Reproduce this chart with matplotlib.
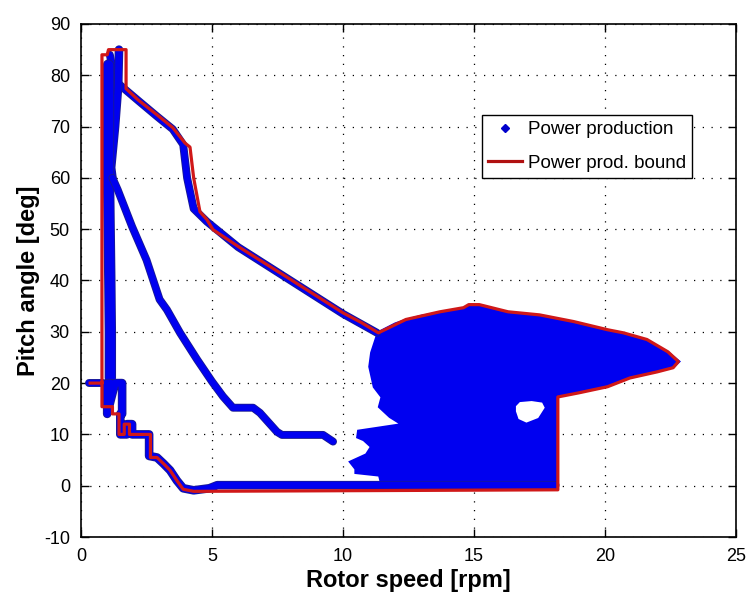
import matplotlib
matplotlib.use("Agg")
import matplotlib.pyplot as plt
from matplotlib.lines import Line2D
import matplotlib.patheffects as pe

plt.rcParams['font.family'] = ['Liberation Sans', 'DejaVu Sans']
plt.rcParams['axes.unicode_minus'] = False

# ---- data ----
# power production bound (red)
bound_x = [0.35, 0.8, 0.8, 1.0, 1.05, 1.72, 1.72, 2.18, 2.9, 3.5, 3.97, 4.16, 4.3, 4.54, 4.8,
           5.04, 6.07, 8.0, 10.0, 10.7, 11.35, 12.4, 13.7, 14.6, 14.8, 15.2, 16.3, 17.5, 18.8,
           20.1, 20.7, 21.6, 22.4, 22.8, 22.6, 22.0, 20.95, 20.1, 19.0, 18.2, 18.2,
           4.3, 3.9, 3.66, 3.4, 3.15, 2.9, 2.65, 2.65, 1.85, 1.85, 1.65, 1.65, 1.45, 1.45,
           1.2, 1.2, 0.8, 0.8]
bound_y = [20, 20, 84, 84, 85, 85, 77.4, 75.2, 72.3, 69.8, 66.8, 66.0, 60, 53.4, 51.9,
           49.9, 46.4, 40.2, 33.7, 31.8, 29.8, 32.4, 33.9, 34.7, 35.3, 35.3, 33.9, 33.3, 32.0,
           30.4, 29.8, 28.5, 26.1, 24.2, 23.0, 22.2, 21.0, 19.3, 18.1, 17.3, -0.8,
           -1.1, -0.7, 1.0, 3.0, 4.3, 5.5, 5.5, 10, 10, 12, 12, 10, 10, 14,
           14, 15.4, 15.4, 20]

# power production traces (blue)
start_x = [0.3, 0.85]
start_y = [20, 20]

upper_x = [1.1, 1.3, 1.6, 2.2, 2.9, 3.5, 3.9, 4.05, 4.3, 4.8, 6.0, 8.0, 10.0, 11.3]
upper_y = [84, 79, 77.6, 75, 72, 69.5, 66.5, 60, 54, 51.5, 46.5, 40, 33.5, 29.8]

cross_x = [1.45, 1.42, 1.3, 1.15, 1.2]
cross_y = [85, 78, 70, 62, 60]

column_x = [1.05, 1.05, 1.1, 1.12, 1.12]
column_y = [82, 60, 40, 30, 21]

decay_x = [1.2, 1.4, 1.95, 2.5, 3.0, 3.28, 3.78, 4.43, 5.0, 5.42, 5.8, 6.57, 6.83, 7.48,
           7.67, 9.24, 9.62]
decay_y = [60, 57.7, 50.5, 44, 36.3, 34.3, 29.8, 24.6, 20.3, 17.4, 15.2, 15.2, 14.2, 10.5,
           9.9, 9.9, 8.6]

down_x = [1.12, 1.0, 1.0, 1.3, 1.57, 1.57, 1.5, 1.5, 1.75, 1.75,
          1.95, 1.95, 2.6, 2.6, 2.9, 3.15, 3.4, 3.66, 3.9, 4.3, 4.9, 5.2, 18.1]
down_y = [20, 20, 14, 20, 20, 14, 14, 10, 10, 12,
          12, 10, 10, 5.8, 5.5, 4.3, 3.0, 1.0, -0.5, -0.9, -0.5, 0.1, 0.1]

blob_x = [11.35, 12.0, 12.4, 13.0, 13.7, 14.6, 14.8, 15.2, 16.3, 17.5, 18.8, 20.1, 20.7,
          21.6, 22.4, 22.8, 22.6, 22.0, 20.95, 20.1, 19.0, 18.15, 18.1, 11.5, 11.4, 10.5,
          10.5, 10.3, 10.9, 11.1, 10.8, 10.57, 10.6, 12.3, 11.8, 11.4, 11.5, 11.2, 11.03,
          11.1]
blob_y = [29.8, 31.5, 32.2, 33.0, 33.6, 34.4, 35.0, 35.0, 33.6, 33.0, 31.7, 30.1, 29.5,
          28.2, 25.9, 24.2, 23.2, 22.4, 21.2, 19.5, 18.3, 17.5, 0.0, 0.0, 2.1, 2.6,
          3.3, 4.6, 6.0, 7.6, 9.0, 9.5, 10.6, 11.9, 13.5, 15.4, 17.3, 19.3, 23.2,
          25.9]

hole_x = [16.6, 16.75, 17.2, 17.6, 17.7, 17.45, 17.0, 16.7, 16.6]
hole_y = [15.5, 16.3, 16.5, 16.2, 15.2, 13.2, 12.3, 13.0, 14.5]

# ---- figure ----
fig = plt.figure(figsize=(7.47, 5.98), dpi=100)
ax = fig.add_axes([81/747, 1-537/598, 655/747, 513/598])

blue = '#0000f0'
edge = '#1a1a90'
ax.fill(blob_x, blob_y, color=blue, lw=2.5, ec=blue, zorder=2)
ax.fill(hole_x, hole_y, color='white', lw=0, zorder=2.1)

for xs, ys, lw in [(start_x, start_y, 4.5), (upper_x, upper_y, 4.5), (cross_x, cross_y, 5),
                   (column_x, column_y, 7), (decay_x, decay_y, 4.5), (down_x, down_y, 5)]:
    ax.plot(xs, ys, color=blue, lw=lw, solid_joinstyle='round', solid_capstyle='round',
            zorder=3, path_effects=[pe.Stroke(linewidth=lw + 1.2, foreground=edge),
                                    pe.Normal()])

ax.plot(bound_x, bound_y, color='#d01818', lw=2.3, zorder=4)

ax.set_xlim(0, 25)
ax.set_ylim(-10, 90)
ax.set_xticks(range(0, 26, 5))
ax.set_yticks(range(-10, 91, 10))
ax.grid(True, color='black', linestyle=(0, (1, 6)), lw=0.9)
ax.tick_params(direction='in', length=6, top=True, right=True, labelsize=13, pad=8,
               width=1)
for s in ax.spines.values():
    s.set_linewidth(1.2)

ax.set_xlabel('Rotor speed [rpm]', fontsize=17, fontweight='bold', labelpad=3)
ax.set_ylabel('Pitch angle [deg]', fontsize=17, fontweight='bold', labelpad=3)

handles = [Line2D([], [], color='#0000cc', marker='D', markersize=4, ls='none'),
           Line2D([], [], color='#b01010', lw=2.3)]
leg = ax.legend(handles, ['Power production', 'Power prod. bound'],
                loc='upper left', bbox_to_anchor=(0.612, 0.823), fontsize=13.5,
                fancybox=False, edgecolor='black', framealpha=1, borderpad=0.35,
                handlelength=1.8, handletextpad=0.3, labelspacing=0.85, borderaxespad=0)
leg.get_frame().set_linewidth(1.0)

fig.savefig('out.png', dpi=100)
